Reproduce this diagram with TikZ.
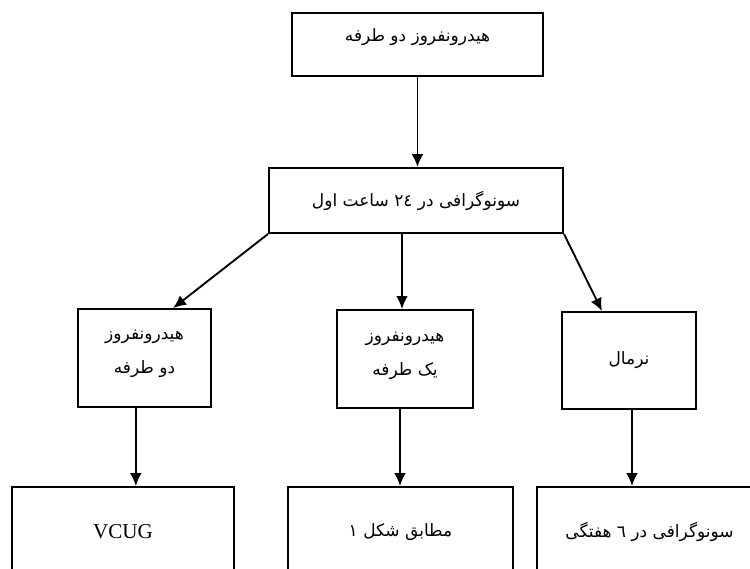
\documentclass[tikz,border=0pt]{standalone}
\usepackage{fontspec}
\setmainfont{Liberation Serif}
\newfontfamily\arabicfont[Script=Arabic]{DejaVu Sans}
\TeXXeTstate=1
\usetikzlibrary{arrows.meta}
\newcommand{\fa}[1]{{\arabicfont\beginR #1\endR}}

\begin{document}
\begin{tikzpicture}[x=0.03cm,y=-0.03cm]

	\tikzstyle flow box=[draw, line width=1.6pt, align=center, inner sep=0pt, font=\fontsize{14.5}{29}\selectfont];
	\tikzstyle flow arrows=[line width=1.6pt, -{Latex[length=11pt,width=10pt]}];

	\path[use as bounding box, clip] (0,0) rectangle (750,569);

	% first two levels
	\node[flow box, minimum width=7.53cm, minimum height=1.89cm, text depth=0.55cm] (top) at (417.5,44.5) {\fa{هیدرونفروز دو طرفه}};
	\node[flow box, minimum width=8.82cm, minimum height=1.95cm] (scan) at (416,200.5) {\fa{سونوگرافی در ٢٤ ساعت اول}};

	% findings
	\node[flow box, minimum width=3.99cm, minimum height=2.94cm, text depth=0.35cm] (bilat) at (144.5,358) {\fa{هیدرونفروز}\\ \fa{دو طرفه}};
	\node[flow box, minimum width=4.08cm, minimum height=2.94cm, text depth=0.3cm] (unilat) at (405,359) {\fa{هیدرونفروز}\\ \fa{یک طرفه}};
	\node[flow box, minimum width=4.02cm, minimum height=2.91cm] (normal) at (629,360.5) {\fa{نرمال}};

	% follow up (cut off at the bottom and on the right)
	\node[flow box, minimum width=6.66cm, minimum height=2.7cm, font=\fontsize{18}{20}\selectfont] (vcug) at (123,532) {VCUG};
	\node[flow box, minimum width=6.75cm, minimum height=2.7cm] (fig) at (400.5,532) {\fa{مطابق شکل ١}};
	\node[flow box, minimum width=6.75cm, minimum height=2.7cm] (week) at (649.5,532) {\fa{سونوگرافی در ٦ هفتگی}};

	\draw[flow arrows] (top.south) -- (top.south |- scan.north);
	\draw[flow arrows] (scan.south west) -- ([xshift=0.86cm]bilat.north);
	\draw[flow arrows] ([xshift=-0.09cm]unilat.north |- scan.south) -- ([xshift=-0.09cm]unilat.north);
	\draw[flow arrows] (scan.south east) -- ([xshift=-0.81cm]normal.north);

	\draw[flow arrows] ([xshift=-0.26cm]bilat.south) -- ([xshift=-0.26cm]bilat.south |- vcug.north);
	\draw[flow arrows] ([xshift=-0.15cm]unilat.south) -- ([xshift=-0.15cm]unilat.south |- fig.north);
	\draw[flow arrows] ([xshift=0.09cm]normal.south) -- ([xshift=0.09cm]normal.south |- week.north);

\end{tikzpicture}
\end{document}
